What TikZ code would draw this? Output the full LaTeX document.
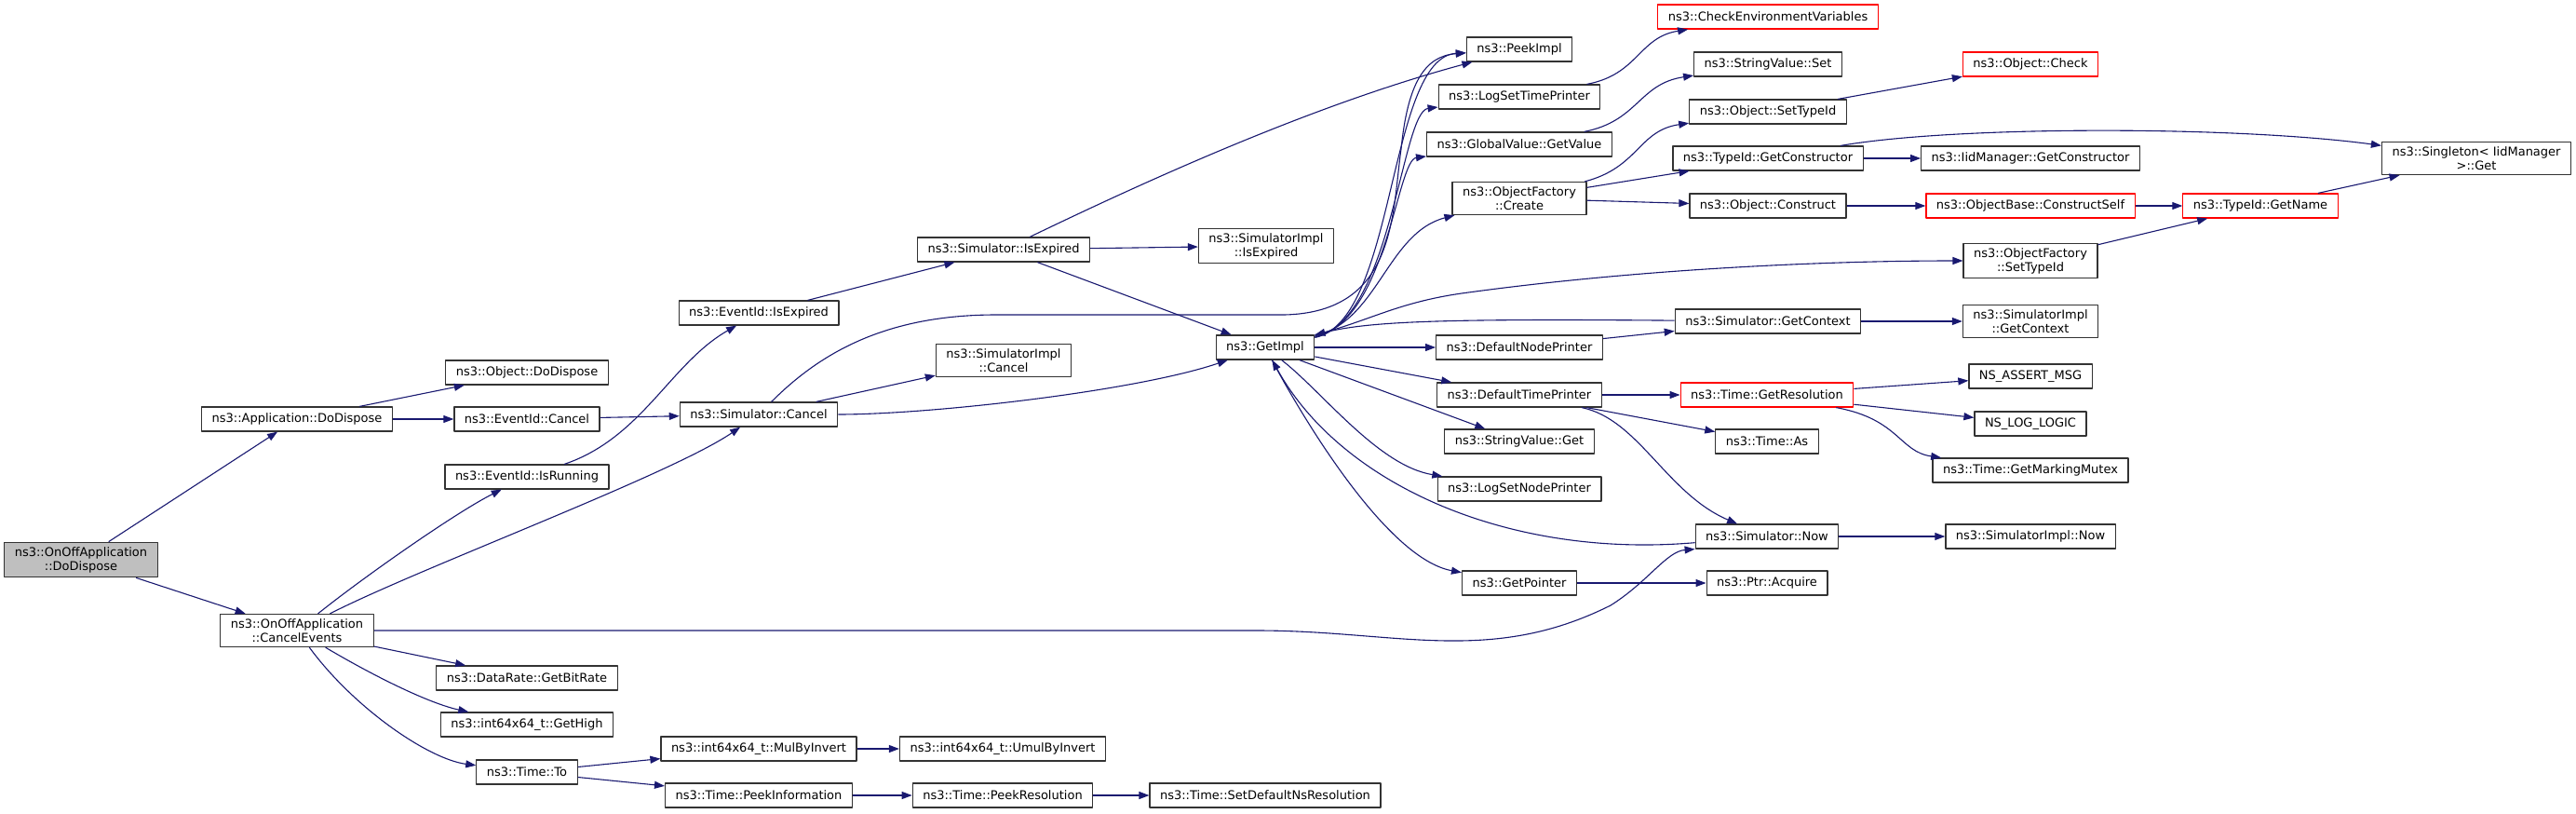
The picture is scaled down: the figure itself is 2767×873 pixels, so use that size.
\documentclass[tikz,border=0pt]{standalone}
\usepackage{fontspec}
\setmainfont{DejaVu Sans}
\usetikzlibrary{arrows.meta}
\definecolor{edgeblue}{HTML}{191970}
\definecolor{rootgray}{HTML}{BFBFBF}
\begin{document}
\begin{tikzpicture}[x=1pt,y=-1pt,>={Triangle[length=11pt,width=8pt]},line join=round,font=\fontsize{13}{15}\selectfont,
	fn/.style={draw=black!80,line width=1.2pt,fill=white,inner xsep=11pt,inner ysep=5pt,minimum height=26pt,align=center},
	trunc/.style={fn,draw=red},
	root/.style={fn,fill=rootgray},
	call/.style={->,draw=edgeblue,line width=1.1pt}]
	\useasboundingbox (0,0) rectangle (2767,873);
	% column 1-3
	\node[root] (od) at (87,601) {ns3::OnOffApplication\\::DoDispose};
	\node[fn] (ce) at (319,677) {ns3::OnOffApplication\\::CancelEvents};
	\node[fn] (ad) at (319,450) {ns3::Application::DoDispose};
	\node[fn] (odd) at (566,400) {ns3::Object::DoDispose};
	\node[fn] (ec) at (566,450) {ns3::EventId::Cancel};
	\node[fn] (eir) at (566,512) {ns3::EventId::IsRunning};
	\node[fn] (br) at (566,728) {ns3::DataRate::GetBitRate};
	\node[fn] (gh) at (566,778) {ns3::int64x64\_t::GetHigh};
	\node[fn] (tt) at (566,829) {ns3::Time::To};
	% column 4-6
	\node[fn] (eie) at (815,336) {ns3::EventId::IsExpired};
	\node[fn] (sc) at (815,445) {ns3::Simulator::Cancel};
	\node[fn] (mi) at (815,804) {ns3::int64x64\_t::MulByInvert};
	\node[fn] (pinf) at (815,854) {ns3::Time::PeekInformation};
	\node[fn] (sie) at (1078,268) {ns3::Simulator::IsExpired};
	\node[fn] (sic) at (1078,387) {ns3::SimulatorImpl\\::Cancel};
	\node[fn] (umi) at (1077,804) {ns3::int64x64\_t::UmulByInvert};
	\node[fn] (pres) at (1077,854) {ns3::Time::PeekResolution};
	\node[fn] (siie) at (1360,264) {ns3::SimulatorImpl\\::IsExpired};
	\node[fn] (gi) at (1359,373) {ns3::GetImpl};
	\node[fn] (sdr) at (1359,854) {ns3::Time::SetDefaultNsResolution};
	% column 7
	\node[fn] (pi) at (1632,53) {ns3::PeekImpl};
	\node[fn] (lstp) at (1632,104) {ns3::LogSetTimePrinter};
	\node[fn] (gv) at (1632,155) {ns3::GlobalValue::GetValue};
	\node[fn] (ofc) at (1632,213) {ns3::ObjectFactory\\::Create};
	\node[fn] (dnp) at (1632,373) {ns3::DefaultNodePrinter};
	\node[fn] (dtp) at (1632,424) {ns3::DefaultTimePrinter};
	\node[fn] (svg) at (1632,474) {ns3::StringValue::Get};
	\node[fn] (lsnp) at (1632,525) {ns3::LogSetNodePrinter};
	\node[fn] (gp) at (1632,626) {ns3::GetPointer};
	% column 8
	\node[trunc] (cev) at (1899,18) {ns3::CheckEnvironmentVariables};
	\node[fn] (svs) at (1899,69) {ns3::StringValue::Set};
	\node[fn] (ost) at (1899,120) {ns3::Object::SetTypeId};
	\node[fn] (tgc) at (1899,170) {ns3::TypeId::GetConstructor};
	\node[fn] (oco) at (1899,221) {ns3::Object::Construct};
	\node[fn] (sgc) at (1899,345) {ns3::Simulator::GetContext};
	\node[trunc] (tgr) at (1898,424) {ns3::Time::GetResolution};
	\node[fn] (tas) at (1898,474) {ns3::Time::As};
	\node[fn] (sn) at (1898,576) {ns3::Simulator::Now};
	\node[fn] (pa) at (1898,626) {ns3::Ptr::Acquire};
	% column 9-11
	\node[trunc] (och) at (2181,69) {ns3::Object::Check};
	\node[fn] (igc) at (2181,170) {ns3::IidManager::GetConstructor};
	\node[trunc] (ocs) at (2181,221) {ns3::ObjectBase::ConstructSelf};
	\node[fn] (ofs) at (2181,280) {ns3::ObjectFactory\\::SetTypeId};
	\node[fn] (sigc) at (2181,345) {ns3::SimulatorImpl\\::GetContext};
	\node[fn] (nam) at (2181,404) {NS\_ASSERT\_MSG};
	\node[fn] (nll) at (2181,455) {NS\_LOG\_LOGIC};
	\node[fn] (gmm) at (2181,505) {ns3::Time::GetMarkingMutex};
	\node[fn] (sin) at (2181,576) {ns3::SimulatorImpl::Now};
	\node[trunc] (tgn) at (2428,221) {ns3::TypeId::GetName};
	\node[fn] (sg) at (2660,170) {ns3::Singleton< IidManager\\>::Get};

	\draw[call] (od)--(ad);
	\draw[call] (od)--(ce);
	\draw[call] (ad)--(odd);
	\draw[call] (ad)--(ec);
	\draw[call] (ec)--(sc);
	\draw[call] (ce) .. controls (390,620) and (490,550) .. (eir);
	\draw[call] (ce) .. controls (450,610) and (720,510) .. (sc);
	\draw[call] (ce.east) -- (1350,677) .. controls (1500,677) and (1600,715) .. (1730,650) .. controls (1770,625) and (1790,592) .. (sn.south west);
	\draw[call] (ce)--(br);
	\draw[call] (ce) .. controls (400,725) and (460,755) .. (gh);
	\draw[call] (ce) .. controls (380,760) and (460,815) .. (tt);
	\draw[call] (tt)--(mi);
	\draw[call] (tt)--(pinf);
	\draw[call] (mi)--(umi);
	\draw[call] (pinf)--(pres);
	\draw[call] (pres)--(sdr);
	\draw[call] (eir) .. controls (690,470) and (720,390) .. (eie);
	\draw[call] (eie)--(sie);
	\draw[call] (sie) .. controls (1250,185) and (1420,110) .. (pi);
	\draw[call] (sie)--(siie);
	\draw[call] (sie)--(gi);
	\draw[call] (sc)--(sic);
	\draw[call] (sc) .. controls (1000,445) and (1220,420) .. (gi);
	\draw[call] (sc) .. controls (880,380) and (950,338) .. (1070,338) -- (1380,338) .. controls (1500,335) and (1495,230) .. (1505,160) .. controls (1512,90) and (1530,60) .. (pi);
	% calls out of GetImpl
	\draw[call] (gi) .. controls (1500,345) and (1490,62) .. (pi);
	\draw[call] (gi) .. controls (1495,345) and (1505,120) .. (lstp);
	\draw[call] (gi) .. controls (1490,345) and (1500,172) .. (gv);
	\draw[call] (gi) .. controls (1480,345) and (1490,250) .. (ofc);
	\draw[call] (gi) .. controls (1470,345) and (1500,325) .. (1570,315) .. controls (1750,290) and (1950,280) .. (ofs);
	\draw[call] (gi)--(dnp);
	\draw[call] (gi)--(dtp);
	\draw[call] (gi)--(svg);
	\draw[call] (gi) .. controls (1420,420) and (1480,500) .. (lsnp);
	\draw[call] (gi) .. controls (1400,450) and (1490,600) .. (gp);
	\draw[call] (sgc) .. controls (1550,342) and (1470,345) .. (gi);
	\draw[call] (sn) .. controls (1620,600) and (1440,520) .. (gi);
	\draw[call] (dnp)--(sgc);
	\draw[call] (dtp)--(tgr);
	\draw[call] (dtp)--(tas);
	\draw[call] (dtp) .. controls (1760,450) and (1790,530) .. (sn);
	\draw[call] (gp)--(pa);
	\draw[call] (lstp) .. controls (1760,80) and (1760,40) .. (cev);
	\draw[call] (gv) .. controls (1760,130) and (1760,90) .. (svs);
	\draw[call] (ofc) .. controls (1760,180) and (1760,140) .. (ost);
	\draw[call] (ofc)--(tgc);
	\draw[call] (ofc)--(oco);
	\draw[call] (ost)--(och);
	\draw[call] (tgc)--(igc);
	\draw[call] (tgc) .. controls (2100,135) and (2400,135) .. (sg);
	\draw[call] (oco)--(ocs);
	\draw[call] (ocs)--(tgn);
	\draw[call] (tgn)--(sg);
	\draw[call] (ofs)--(tgn);
	\draw[call] (sgc)--(sigc);
	\draw[call] (tgr)--(nam);
	\draw[call] (tgr)--(nll);
	\draw[call] (tgr) .. controls (2040,450) and (2040,485) .. (gmm);
	\draw[call] (sn)--(sin);
\end{tikzpicture}
\end{document}
